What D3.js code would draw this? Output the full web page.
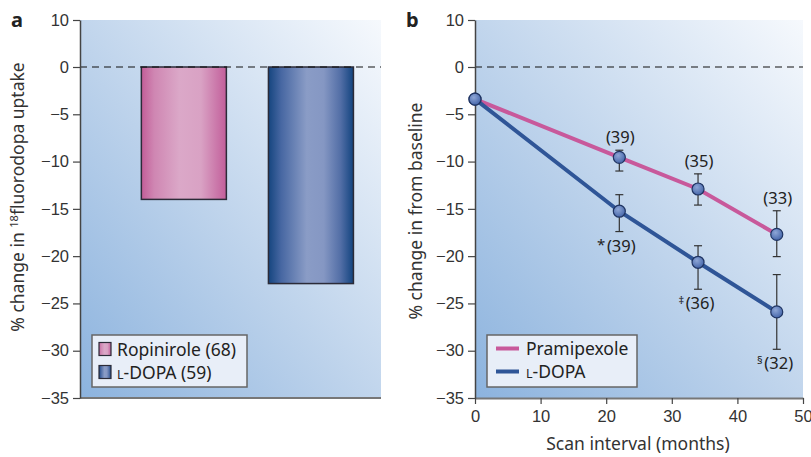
<!DOCTYPE html>
<html>
<head>
<meta charset="utf-8">
<script src="https://cdn.jsdelivr.net/npm/d3@7"></script>
<style>
  body { margin: 0; background: #fff; }
  svg { display: block; font-family: "Noto Sans", "Open Sans", sans-serif; }
  .tick text { font-size: 16.5px; fill: #333; }
</style>
</head>
<body>
<div class="container"></div>
<script>
// panel a data
const barNames = ["Ropinirole", "L-DOPA"]
const barCounts = [68, 59]
const barValues = [-14.0, -22.9]

// panel b data
const months = [0, 22, 34, 46]
const pramMean = [-3.4, -9.55, -12.9, -17.7]
const pramUpper = [-3.4, -8.8, -11.3, -15.2]
const pramLower = [-3.4, -11.0, -14.6, -20.05]
const pramLabels = ["", "(39)", "(35)", "(33)"]
const dopaMean = [-3.4, -15.25, -20.65, -25.9]
const dopaUpper = [-3.4, -13.5, -18.9, -21.95]
const dopaLower = [-3.4, -17.4, -23.5, -29.85]
const dopaLabels = ["", "(39)", "(36)", "(32)"]
const dopaMarks = ["", "*", "‡", "§"]

const yTicks = [10, 0, -5, -10, -15, -20, -25, -30, -35]
const xTicks = [0, 10, 20, 30, 40, 50]

const w = 811
const h = 457
const yTop = 20, yBottom = 398

const svg = d3.select(".container").append("svg")
  .attr("width", w)
  .attr("height", h)

const defs = svg.append("defs")

// background gradient
const bg = defs.append("linearGradient").attr("id", "bg")
  .attr("x1", 0).attr("y1", 1).attr("x2", 1).attr("y2", 0)
bg.append("stop").attr("offset", 0).attr("stop-color", "#8cb3de")
bg.append("stop").attr("offset", 0.45).attr("stop-color", "#bcd2eb")
bg.append("stop").attr("offset", 1).attr("stop-color", "#f6f9fd")

const barGrad = (id, stops) => {
  const g = defs.append("linearGradient").attr("id", id)
    .attr("x1", 0).attr("y1", 0).attr("x2", 1).attr("y2", 0)
  stops.forEach(s => g.append("stop").attr("offset", s[0]).attr("stop-color", s[1]))
}
barGrad("pinkBar", [[0, "#c25d98"], [0.15, "#cf86b2"], [0.45, "#dba8c8"], [0.7, "#d9a2c4"], [1, "#c25e9a"]])
barGrad("blueBar", [[0, "#15457f"], [0.15, "#4767a2"], [0.45, "#8a9cc6"], [0.65, "#8597c3"], [0.85, "#526ea6"], [1, "#12447f"]])

const dot = defs.append("radialGradient").attr("id", "dot")
  .attr("cx", 0.4).attr("cy", 0.35).attr("r", 0.6)
dot.append("stop").attr("offset", 0).attr("stop-color", "#8ea6d6")
dot.append("stop").attr("offset", 1).attr("stop-color", "#4c6cae")

// shared y scale (segment above 0 is compressed)
const yScale = d3.scaleLinear().domain([-35, 0, 10]).range([yBottom, 67, yTop])

const yAxis = d3.axisLeft(yScale).tickValues(yTicks).tickSize(7).tickPadding(4).tickSizeOuter(0)

const styleAxis = g => {
  g.select(".domain").attr("stroke", "#444").attr("stroke-width", 1.5)
  g.selectAll(".tick line").attr("stroke", "#444").attr("stroke-width", 1.2)
}

// ---------- panel a ----------
const ax0 = 80, ax1 = 381
svg.append("rect").attr("x", ax0).attr("y", yTop).attr("width", ax1 - ax0).attr("height", yBottom - yTop)
  .attr("fill", "url(#bg)")

const xBand = d3.scaleBand().domain(barNames).range([ax0, ax1])
  .paddingInner(0.331).paddingOuter(0.35).align(0.69)

svg.selectAll(".bar")
  .data(barNames)
  .enter()
  .append("rect")
  .attr("class", "bar")
  .attr("x", d => xBand(d))
  .attr("y", yScale(0))
  .attr("width", xBand.bandwidth())
  .attr("height", (d, i) => yScale(barValues[i]) - yScale(0))
  .attr("fill", (d, i) => i == 0 ? "url(#pinkBar)" : "url(#blueBar)")
  .attr("stroke", "#2b2b38")
  .attr("stroke-width", 1.5)

svg.append("line").attr("x1", ax0).attr("x2", ax1).attr("y1", yScale(0)).attr("y2", yScale(0))
  .attr("stroke", "#111").attr("stroke-width", 1.2).attr("stroke-dasharray", "7,5")

svg.append("line").attr("x1", ax0).attr("x2", ax1).attr("y1", yBottom).attr("y2", yBottom)
  .attr("stroke", "#777").attr("stroke-width", 2)

svg.append("g").attr("transform", "translate(" + ax0 + ",0)").call(yAxis).call(styleAxis)

// legend a
const legA = svg.append("g")
legA.append("rect").attr("x", 92).attr("y", 335).attr("width", 155).attr("height", 52)
  .attr("fill", "#e8eef8").attr("stroke", "#666").attr("stroke-width", 1.5)
barNames.forEach((name, i) => {
  const cy = 349 + i * 23
  legA.append("rect").attr("x", 99).attr("y", cy - 6.5).attr("width", 12).attr("height", 13)
    .attr("fill", i == 0 ? "url(#pinkBar)" : "url(#blueBar)").attr("stroke", "#2b2b38").attr("stroke-width", 1.2)
  const t = legA.append("text").attr("x", 117).attr("y", cy + 6.5).attr("font-size", 17.5).attr("fill", "#222")
  if (name == "L-DOPA") {
    t.append("tspan").attr("font-size", 12.5).text("L")
    t.append("tspan").text("-DOPA (" + barCounts[i] + ")")
  } else {
    t.text(name + " (" + barCounts[i] + ")")
  }
})

const yLabA = svg.append("text")
  .attr("transform", "translate(24," + 197 + ") rotate(-90)")
  .attr("text-anchor", "middle").attr("font-size", 17.5).attr("fill", "#333")
yLabA.append("tspan").text("% change in ")
yLabA.append("tspan").attr("font-size", 11).attr("dy", -6).text("18")
yLabA.append("tspan").attr("dy", 6).text("fluorodopa uptake")

svg.append("text").attr("x", 11).attr("y", 27).attr("font-size", 20).attr("font-weight", "bold")
  .attr("fill", "#222").text("a")

// ---------- panel b ----------
const bx0 = 475, bx1 = 803
svg.append("rect").attr("x", bx0).attr("y", yTop).attr("width", bx1 - bx0).attr("height", yBottom - yTop)
  .attr("fill", "url(#bg)")

const xScale = d3.scaleLinear().domain([0, 50]).range([bx0, bx1])

svg.append("line").attr("x1", bx0).attr("x2", bx1).attr("y1", yScale(0)).attr("y2", yScale(0))
  .attr("stroke", "#111").attr("stroke-width", 1.2).attr("stroke-dasharray", "7,5")

const xAxis = d3.axisBottom(xScale).tickValues(xTicks).tickSize(6).tickPadding(6).tickSizeOuter(0)
svg.append("g").attr("transform", "translate(0," + yBottom + ")").call(xAxis).call(g => {
  g.select(".domain").attr("stroke", "#777").attr("stroke-width", 2)
  g.selectAll(".tick line").attr("stroke", "#444").attr("stroke-width", 1.2)
})
svg.append("g").attr("transform", "translate(" + bx0 + ",0)").call(yAxis).call(styleAxis)

const series = [
  { mean: pramMean, up: pramUpper, lo: pramLower, color: "#c8599b" },
  { mean: dopaMean, up: dopaUpper, lo: dopaLower, color: "#2f5597" }
]

const line = d3.line().x((d, i) => xScale(months[i])).y(d => yScale(d))

series.forEach(s => {
  svg.append("path").datum(s.mean).attr("d", line)
    .attr("fill", "none").attr("stroke", s.color).attr("stroke-width", 4)
})

series.forEach(s => {
  const g = svg.append("g")
  months.forEach((m, i) => {
    if (s.up[i] == s.lo[i]) return
    const x = xScale(m)
    g.append("line").attr("x1", x).attr("x2", x).attr("y1", yScale(s.up[i])).attr("y2", yScale(s.lo[i]))
      .attr("stroke", "#333").attr("stroke-width", 1.2)
    g.append("line").attr("x1", x - 4).attr("x2", x + 4).attr("y1", yScale(s.up[i])).attr("y2", yScale(s.up[i]))
      .attr("stroke", "#333").attr("stroke-width", 1.2)
    g.append("line").attr("x1", x - 4).attr("x2", x + 4).attr("y1", yScale(s.lo[i])).attr("y2", yScale(s.lo[i]))
      .attr("stroke", "#333").attr("stroke-width", 1.2)
  })
})

series.forEach(s => {
  svg.selectAll(null)
    .data(s.mean)
    .enter()
    .append("circle")
    .attr("cx", (d, i) => xScale(months[i]))
    .attr("cy", d => yScale(d))
    .attr("r", 6)
    .attr("fill", "url(#dot)")
    .attr("stroke", "#1f3462")
    .attr("stroke-width", 1.2)
})

// n labels
months.forEach((m, i) => {
  if (pramLabels[i] != "") {
    svg.append("text").attr("x", xScale(m) + 1).attr("y", yScale(pramUpper[i]) - 7)
      .attr("text-anchor", "middle").attr("font-size", 16.5).attr("fill", "#222").text(pramLabels[i])
  }
  if (dopaLabels[i] != "") {
    const x = xScale(m) + 2
    const y = yScale(dopaLower[i]) + 20
    svg.append("text").attr("x", x).attr("y", y)
      .attr("text-anchor", "middle").attr("font-size", 16.5).attr("fill", "#222").text(dopaLabels[i])
    svg.append("text").attr("x", x - 16).attr("y", dopaMarks[i] == "*" ? y - 2 : y - 5)
      .attr("text-anchor", "end").attr("font-size", dopaMarks[i] == "*" ? 15 : 11)
      .attr("fill", "#222").text(dopaMarks[i])
  }
})

// legend b
const legB = svg.append("g")
legB.append("rect").attr("x", 487).attr("y", 335).attr("width", 150).attr("height", 52)
  .attr("fill", "#e8eef8").attr("stroke", "#666").attr("stroke-width", 1.5)
const legNames = ["Pramipexole", "L-DOPA"]
legNames.forEach((name, i) => {
  const cy = 348.5 + i * 23
  legB.append("line").attr("x1", 496).attr("x2", 519).attr("y1", cy).attr("y2", cy)
    .attr("stroke", series[i].color).attr("stroke-width", 4)
  const t = legB.append("text").attr("x", 526).attr("y", cy + 6.5).attr("font-size", 17.5).attr("fill", "#222")
  if (name == "L-DOPA") {
    t.append("tspan").attr("font-size", 12.5).text("L")
    t.append("tspan").text("-DOPA")
  } else {
    t.text(name)
  }
})

svg.append("text")
  .attr("transform", "translate(422," + 211 + ") rotate(-90)")
  .attr("text-anchor", "middle").attr("font-size", 17.5).attr("fill", "#333")
  .text("% change in from baseline")

svg.append("text").attr("x", 638).attr("y", 450).attr("text-anchor", "middle")
  .attr("font-size", 17.5).attr("fill", "#333").text("Scan interval (months)")

svg.append("text").attr("x", 406).attr("y", 27).attr("font-size", 20).attr("font-weight", "bold")
  .attr("fill", "#222").text("b")
</script>
</body>
</html>
